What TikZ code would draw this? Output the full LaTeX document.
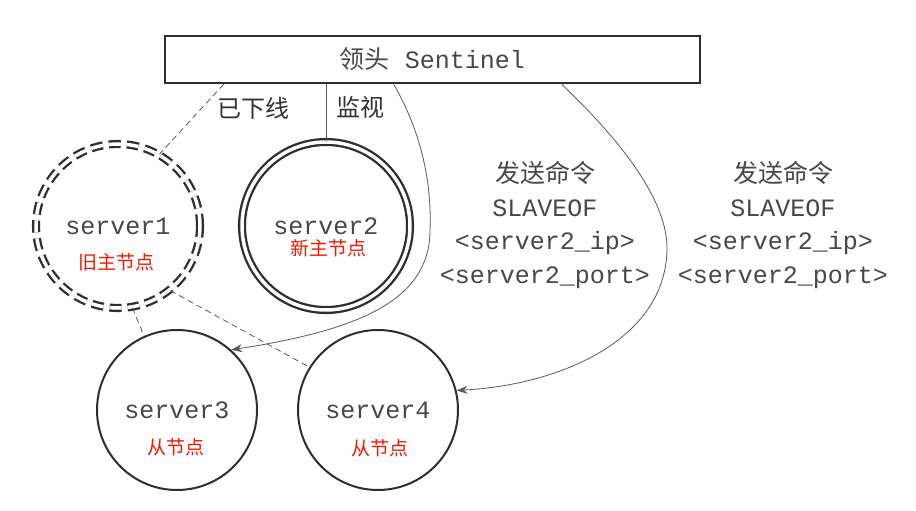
\documentclass[tikz,border=0pt]{standalone}
\usepackage{fontspec}
\setmonofont{Liberation Mono}
\newfontfamily\cjk{Noto Sans CJK SC}
\usetikzlibrary{arrows.meta,calc}

\begin{document}
\begin{tikzpicture}[
		x=1pt,y=-1pt,
		txt/.style={font=\fontsize{25}{33.5}\selectfont\ttfamily,text=black!72,align=center,inner sep=0pt},
		cn/.style={font=\cjk\fontsize{24}{28}\selectfont,text=black!80,inner sep=0pt},
		tag/.style={font=\cjk\fontsize{19}{22}\selectfont,text=red!80!orange!95!black,inner sep=0pt},
		server/.style={txt,draw=black!82,circle,line width=2pt,minimum size=160pt},
		master/.style={server,line width=2.3pt,double=white,double distance=3.5pt,minimum size=168pt},
		link/.style={draw=black!65,line width=0.8pt},
		lost/.style={link,dash pattern=on 6pt off 4pt},
		cmd/.style={link,-{Stealth[length=11pt,width=8pt]}}
		]
		
		\useasboundingbox (0,0) rectangle (916,511);
		
		% Sentinel
		\node[txt,draw=black!82,line width=2.5pt,minimum width=535pt,minimum height=47pt] (sent) at (432.5,59.5) {{\cjk 领头} Sentinel};
		
		% servers
		\node[master,dash pattern=on 12pt off 6pt,minimum size=164pt] (s1) at (118,226) {server1};
		\node[master] (s2) at (326,226) {server2};
		\node[server] (s3) at (177,410) {server3};
		\node[server] (s4) at (378,410) {server4};
		
		% ruoli
		\node[tag] (t1) at ($(s1.center)+(-2,36)$) {旧主节点};
		\node[tag] (t2) at ($(s2.center)+(2,22)$) {新主节点};
		\node[tag] (t3) at ($(s3.center)+(-1,37)$) {从节点};
		\node[tag] (t4) at ($(s4.center)+(2,38)$) {从节点};
		
		% collegamenti
		\draw[lost] ([xshift=60pt]sent.south west) -- (s1.60);
		\draw[link] (s2.north |- sent.south) -- (s2.north);
		\draw[lost] (s1.-80) -- (s3.114);
		\draw[lost] (s1.-51) -- (s4.148);
		
		\node[cn] (down) at (253,108) {已下线};
		\node[cn] (watch) at (360,107) {监视};
		
		% SLAVEOF
		\draw[cmd] ([xshift=230pt]sent.south west) .. controls (420,130) and (432,180) .. (430,230)
			.. controls (430,300) and (360,330) .. (s3.48);
		\draw[cmd] ([xshift=398pt]sent.south west) .. controls (620,140) and (668,200) .. (667,250)
			.. controls (665,340) and (560,385) .. (s4.14);
		
		\node[txt] (c1) at (545,225) {{\cjk 发送命令}\\SLAVEOF\\<server2\_ip>\\<server2\_port>};
		\node[txt] (c2) at (783,225) {{\cjk 发送命令}\\SLAVEOF\\<server2\_ip>\\<server2\_port>};
		
	\end{tikzpicture}
\end{document}
